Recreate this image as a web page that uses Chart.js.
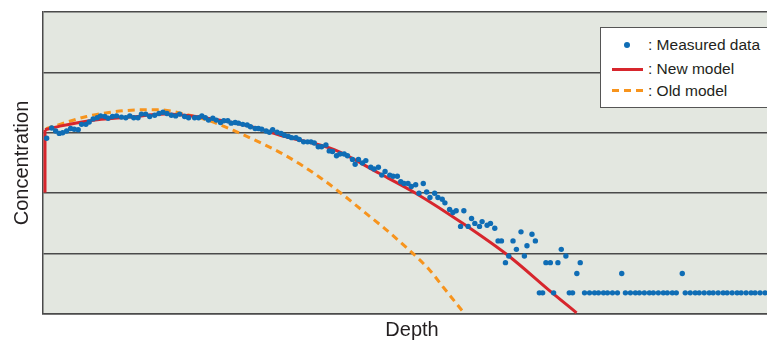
<!DOCTYPE html>
<html>
<head>
<meta charset="utf-8">
<script src="https://cdn.jsdelivr.net/npm/chart.js@4.4.1/dist/chart.umd.min.js"></script>
<style>
    html, body { margin: 0; padding: 0; background: #ffffff; overflow: hidden; }
    #wrap { position: relative; width: 785px; height: 342px; }
    #legend {
        position: absolute; left: 600px; top: 27px; width: 190px; height: 79px;
        background: #ffffff; border: 1px solid #555555;
        font-family: "Liberation Sans", Arial, Helvetica, sans-serif;
        font-size: 15.5px; color: #231f20;
    }
    #legend .row { position: absolute; left: 47px; height: 18px; line-height: 18px; white-space: nowrap; }
    #legend .dot { position: absolute; left: 23px; top: 14px; width: 6px; height: 6px; border-radius: 50%; background: #0f6db5; }
    #legend .solid { position: absolute; left: 11px; top: 39.5px; width: 31px; height: 3px; background: #d7262d; }
    #legend .dash {
        position: absolute; left: 11px; top: 61px; width: 31px; height: 3px;
        background: repeating-linear-gradient(to right, #f7941d 0 7px, transparent 7px 12px);
    }
</style>
</head>
<body>
<div id="wrap">
    <canvas id="depthChart" width="785" height="342"></canvas>
    <div id="legend">
        <span class="dot"></span><div class="row" style="top:8px">: Measured data</div>
        <span class="solid"></span><div class="row" style="top:32px">: New model</div>
        <span class="dash"></span><div class="row" style="top:54px">: Old model</div>
    </div>
</div>
<script>
// Measured profile (depth in arbitrary units, concentration 0-5)
const measuredDepth = [
    3.7, 8.7, 12.7, 16.3, 19.7, 23.7, 27.7, 31.3, 35.3, 38.7, 43, 46.3, 50.3, 54.3, 57.7, 62, 65.3, 69.7, 73.7, 78.7,
    83, 87, 91, 95.3, 98.7, 103, 107, 112, 116.3, 120.3, 124.3, 128.7, 133, 137, 142, 146,
    152, 156, 159.3, 162.7, 166, 170.3, 173.7, 178, 181.3, 185.3, 188.7, 192.7, 196, 200.3, 204.7, 208, 212.7, 216,
    219.3, 223.7, 227, 230.3, 234.7, 238.7, 242, 246, 249.3, 253.7, 257, 261.3, 265.3, 268.7, 272, 276, 279.3, 283.7,
    287, 290.3, 294.3, 297.7, 302, 305.3, 310.3, 313, 316.3, 320.3, 323.7, 328.7, 332, 336.3, 339.7, 343, 347.7, 351,
    355.3, 358.7, 362, 366, 369.3, 373.7, 377, 381.3, 384.7, 388, 392.7, 396, 400.3, 403, 407.7, 411, 414.3, 418.7,
    422, 426.3, 429.7, 433, 437.7, 440.3, 445.3, 448.7, 453, 456.3, 459.7, 463.7, 467, 471.3, 474.7, 479.3, 482.7,
    485.3, 490.3, 493.7, 497.7, 501, 504.3, 508.7, 512, 516.3, 519.7, 524.3, 527.7, 531, 535.3, 538.7,
    543, 548, 553, 557, 562, 566, 571, 576, 580.3, 584, 589, 594, 598, 603, 608, 612, 617, 622, 626, 631, 635, 641,
    644, 649, 654, 658, 663, 668, 672, 677, 682, 686, 691, 696, 700, 705, 710, 714, 719, 724
];
const measuredConc = [
    2.91, 3.08, 3.03, 2.99, 3.00, 3.03, 3.07, 3.06, 3.05, 3.14, 3.14, 3.18, 3.23, 3.25, 3.28, 3.27, 3.24, 3.27, 3.28, 3.26,
    3.25, 3.28, 3.25, 3.25, 3.31, 3.31, 3.27, 3.29, 3.32, 3.34, 3.32, 3.29, 3.28, 3.31, 3.27, 3.25,
    3.25, 3.25, 3.28, 3.25, 3.21, 3.24, 3.21, 3.17, 3.20, 3.20, 3.16, 3.17, 3.16, 3.14, 3.13, 3.10, 3.07, 3.07,
    3.06, 3.03, 3.01, 3.05, 3.01, 2.99, 2.96, 2.94, 2.92, 2.92, 2.89, 2.85, 2.85, 2.85, 2.83, 2.77, 2.77, 2.80,
    2.70, 2.69, 2.62, 2.65, 2.65, 2.62, 2.56, 2.48, 2.56, 2.50, 2.54, 2.43, 2.40, 2.43, 2.30, 2.36, 2.30, 2.28,
    2.28, 2.19, 2.16, 2.16, 2.11, 2.14, 2.00, 2.16, 2.02, 1.93, 2.00, 1.93, 1.90, 1.84, 1.73, 1.68, 1.71, 1.45,
    1.71, 1.45, 1.58, 1.50, 1.45, 1.53, 1.47, 1.50, 1.42, 1.21, 1.21, 0.85, 0.96, 1.21, 1.07, 1.36, 0.96,
    1.13, 1.32, 1.21, 0.35, 0.35, 0.85, 0.85, 0.35, 0.85, 1.07, 0.96, 0.35, 0.35, 0.67, 0.85,
    0.35, 0.35, 0.35, 0.35, 0.35, 0.35, 0.35, 0.35, 0.67, 0.35, 0.35, 0.35, 0.35, 0.35, 0.35, 0.35, 0.35, 0.35, 0.35, 0.35, 0.35, 0.67,
    0.35, 0.35, 0.35, 0.35, 0.35, 0.35, 0.35, 0.35, 0.35, 0.35, 0.35, 0.35, 0.35, 0.35, 0.35, 0.35, 0.35, 0.35
];

// New model: vertical step at the surface, then the smooth profile
const newModelDepth = [2, 2, 17, 47, 87, 122, 142, 157, 207, 242, 292, 337, 373.7, 420, 467, 507, 535];
const newModelConc  = [2.01, 3.05, 3.11, 3.20, 3.26, 3.31, 3.29, 3.26, 3.11, 2.94, 2.72, 2.33, 2.00, 1.51, 0.96, 0.40, 0.02];

// Old model
const oldModelDepth = [3, 17, 43.7, 72, 98.7, 117, 142, 170, 193.7, 218.7, 243.7, 277, 300.3, 322, 343, 363.7, 387, 402, 423];
const oldModelConc  = [3.07, 3.14, 3.27, 3.35, 3.38, 3.38, 3.31, 3.18, 3.02, 2.83, 2.62, 2.27, 1.98, 1.69, 1.41, 1.11, 0.74, 0.43, 0.0];

const yTicks = [0, 1, 2, 3, 4, 5];

function toPoints(xs, ys) {
    return xs.map((x, i) => ({ x: x, y: ys[i] }));
}

const newPoints = toPoints(newModelDepth, newModelConc);

// plot area fill
const plotBackground = {
    id: 'plotBackground',
    beforeDraw(chart) {
        const { ctx, chartArea } = chart;
        ctx.save();
        ctx.fillStyle = '#e3e7e0';
        ctx.fillRect(chartArea.left, chartArea.top, chartArea.right - chartArea.left, chartArea.bottom - chartArea.top);
        ctx.restore();
    }
};

const titleFont = { family: '"Liberation Sans", Arial, Helvetica, sans-serif', size: 20 };

new Chart(document.getElementById('depthChart'), {
    type: 'scatter',
    data: {
        datasets: [
            {
                label: 'Measured data',
                data: toPoints(measuredDepth, measuredConc),
                showLine: false,
                pointRadius: 2.7,
                pointBorderWidth: 0,
                pointBackgroundColor: '#0f6db5',
                order: 0
            },
            {
                label: 'New model',
                data: newPoints.slice(1),
                showLine: true,
                borderColor: '#d7262d',
                borderWidth: 3,
                pointRadius: 0,
                cubicInterpolationMode: 'monotone',
                order: 1
            },
            {
                label: 'New model step',
                data: newPoints.slice(0, 2),
                showLine: true,
                borderColor: '#d7262d',
                borderWidth: 3,
                pointRadius: 0,
                order: 1
            },
            {
                label: 'Old model',
                data: toPoints(oldModelDepth, oldModelConc),
                showLine: true,
                borderColor: '#f7941d',
                borderWidth: 3,
                borderDash: [7, 5],
                pointRadius: 0,
                cubicInterpolationMode: 'monotone',
                order: 2
            }
        ]
    },
    options: {
        responsive: false,
        animation: false,
        layout: { padding: { top: 12, right: 2, left: 0, bottom: 0 } },
        plugins: {
            legend: { display: false },
            tooltip: { enabled: false }
        },
        scales: {
            x: {
                type: 'linear',
                min: 0,
                max: 740,
                ticks: { display: false },
                grid: { display: false, drawTicks: false },
                border: { display: true, color: '#4a4a4a', width: 1.5 },
                title: {
                    display: true,
                    text: 'Depth',
                    color: '#231f20',
                    font: titleFont,
                    padding: { top: 4, bottom: 0 }
                }
            },
            y: {
                type: 'linear',
                min: yTicks[0],
                max: yTicks[yTicks.length - 1],
                afterBuildTicks: scale => { scale.ticks = yTicks.map(v => ({ value: v })); },
                ticks: { display: false },
                grid: { color: '#4a4a4a', lineWidth: 1.5, drawTicks: false },
                border: { display: true, color: '#4a4a4a', width: 1.5 },
                title: {
                    display: true,
                    text: 'Concentration',
                    color: '#231f20',
                    font: titleFont,
                    padding: { top: 10, bottom: 9 }
                }
            }
        }
    },
    plugins: [plotBackground]
});
</script>
</body>
</html>
